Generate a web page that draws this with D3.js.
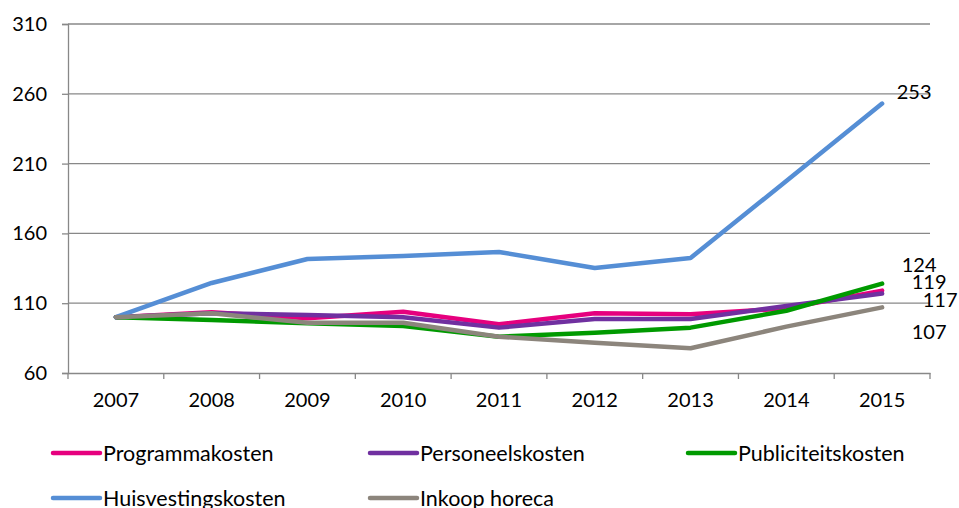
<!DOCTYPE html>
<html>
<head>
<meta charset="utf-8">
<script src="https://cdn.jsdelivr.net/npm/d3@7"></script>
<style>
  body { margin: 0; background: #fff; }
  .tick text { font-family: Lato, "Open Sans", sans-serif; font-size: 20px; fill: #000; }
  .label { font-family: Lato, "Open Sans", sans-serif; font-size: 20px; fill: #000; }
  .legend text { font-family: Lato, "Open Sans", sans-serif; font-size: 21.5px; fill: #000; }
</style>
</head>
<body>
<script>
var years = ["2007", "2008", "2009", "2010", "2011", "2012", "2013", "2014", "2015"];
var yTicks = [60, 110, 160, 210, 260, 310];

var seriesNames = ["Programmakosten", "Personeelskosten", "Publiciteitskosten", "Huisvestingskosten", "Inkoop horeca"];
var programmakosten = [100, 103.5, 99.2, 103.9, 94.9, 102.8, 102, 106.3, 119];
var personeelskosten = [100, 102.8, 101.5, 99.9, 92.5, 98.7, 98.7, 108, 117];
var publiciteitskosten = [100, 98, 95.6, 93.7, 86, 88.9, 92.5, 104.6, 124];
var huisvestingskosten = [100, 124.5, 141.7, 143.8, 146.7, 135.2, 142.4, 197.5, 253];
var inkoopHoreca = [100, 102.8, 96, 96, 86, 81.7, 77.7, 93.2, 107];
var endLabels = ["119", "117", "124", "253", "107"];

var colors = ["#E6007E", "#7030A0", "#009A00", "#558ED5", "#8C857C"];
var allValues = [programmakosten, personeelskosten, publiciteitskosten, huisvestingskosten, inkoopHoreca];
// offsets of the end labels relative to the last point
var labelOffset = [[47, -9], [58, 7], [37, -19], [32, -12], [47, 25]];

var svgWidth = 959, svgHeight = 508;
var margin = { top: 24, right: 29, bottom: 135, left: 68 };
var width = svgWidth - margin.left - margin.right;
var height = svgHeight - margin.top - margin.bottom;

var svg = d3.select("body").append("svg")
  .attr("width", svgWidth)
  .attr("height", svgHeight);

var chartGroup = svg.append("g")
  .attr("transform", `translate(${margin.left}, ${margin.top})`);

var xScale = d3.scaleBand().domain(years).range([0, width]);
var yScale = d3.scaleLinear().domain([60, 310]).range([height, 0]);

// gridlines
chartGroup.selectAll(".grid")
  .data(yTicks.slice(1))
  .enter().append("line")
  .attr("x1", 0).attr("x2", width)
  .attr("y1", d => yScale(d)).attr("y2", d => yScale(d))
  .attr("stroke", "#888").attr("stroke-width", 1.3);

var leftAxis = d3.axisLeft(yScale).tickValues(yTicks).tickSize(6).tickPadding(15);
var yAxisG = chartGroup.append("g").call(leftAxis);
yAxisG.select(".domain").attr("stroke", "#888").attr("stroke-width", 1.3);
yAxisG.selectAll(".tick line").attr("stroke", "#888").attr("stroke-width", 1.3);

var bottomAxis = d3.axisBottom(xScale).tickSize(0).tickPadding(20);
var xAxisG = chartGroup.append("g")
  .attr("transform", `translate(0, ${height})`)
  .call(bottomAxis);
xAxisG.select(".domain").attr("stroke", "#888").attr("stroke-width", 1.3);

// category boundary ticks
chartGroup.selectAll(".xtick")
  .data(years.concat(["end"]))
  .enter().append("line")
  .attr("x1", (d, i) => i * xScale.step()).attr("x2", (d, i) => i * xScale.step())
  .attr("y1", height).attr("y2", height + 6)
  .attr("stroke", "#888").attr("stroke-width", 1.3);

var drawLine = d3.line()
  .x((d, i) => xScale(years[i]) + xScale.bandwidth() / 2)
  .y(d => yScale(d));

allValues.forEach(function(vals, s) {
  chartGroup.append("path")
    .attr("d", drawLine(vals))
    .attr("fill", "none")
    .attr("stroke", colors[s])
    .attr("stroke-width", 4.5)
    .attr("stroke-linejoin", "round")
    .attr("stroke-linecap", "round");
});

allValues.forEach(function(vals, s) {
  var last = vals.length - 1;
  chartGroup.append("text")
    .attr("class", "label")
    .attr("x", xScale(years[last]) + xScale.bandwidth() / 2 + labelOffset[s][0])
    .attr("y", yScale(vals[last]) + labelOffset[s][1])
    .attr("dy", "0.35em")
    .attr("text-anchor", "middle")
    .text(endLabels[s]);
});

// legend
var legendPos = [[53, 453], [370, 453], [688, 453], [53, 498], [370, 498]];
var legend = svg.append("g").attr("class", "legend");
seriesNames.forEach(function(name, i) {
  var g = legend.append("g").attr("transform", `translate(${legendPos[i][0]}, ${legendPos[i][1]})`);
  g.append("line")
    .attr("x1", 0).attr("x2", 47)
    .attr("stroke", colors[i]).attr("stroke-width", 4.5)
    .attr("stroke-linecap", "round");
  g.append("text")
    .attr("x", 50)
    .attr("dy", "0.35em")
    .text(name);
});
</script>
</body>
</html>
